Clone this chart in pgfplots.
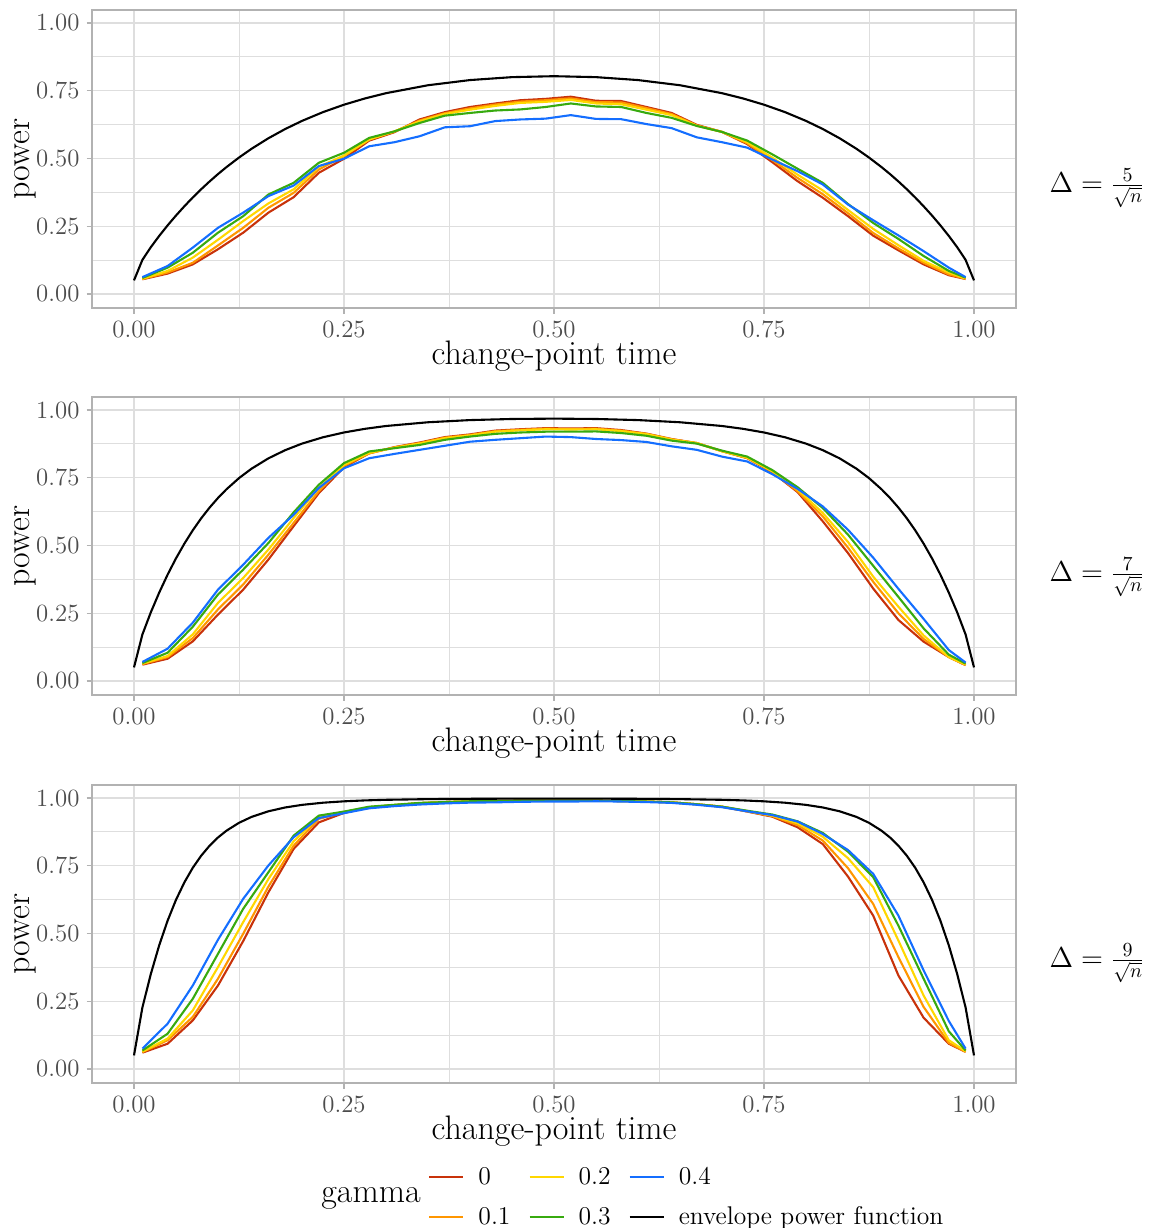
\documentclass[border=0pt]{standalone}
\usepackage{pgfplots}
\usepackage{pgfplotstable}
\pgfplotsset{compat=1.18}

\definecolor{g0}{RGB}{200,50,10}
\definecolor{g1}{RGB}{255,150,0}
\definecolor{g2}{RGB}{255,215,0}
\definecolor{g3}{RGB}{55,170,15}
\definecolor{g4}{RGB}{20,110,255}
\definecolor{grey30}{gray}{0.3}
\definecolor{grey70}{gray}{0.7}
\definecolor{grey87}{gray}{0.87}

% simulated power, delta = 5/sqrt(n)
\pgfplotstableread{
x g0 g1 g2 g3 g4
0.01 .054 .055 .056 .059 .062
0.04 .075 .079 .085 .097 .103
0.07 .109 .115 .134 .152 .171
0.10 .165 .179 .200 .226 .244
0.13 .226 .244 .269 .287 .300
0.16 .300 .318 .334 .367 .361
0.19 .357 .373 .386 .410 .400
0.22 .447 .459 .469 .484 .472
0.25 .499 .509 .511 .521 .499
0.28 .566 .570 .570 .576 .545
0.31 .597 .599 .600 .600 .560
0.34 .644 .640 .637 .631 .582
0.37 .671 .667 .664 .658 .615
0.40 .690 .685 .680 .668 .619
0.43 .703 .699 .694 .677 .638
0.46 .715 .710 .705 .681 .644
0.49 .720 .715 .709 .690 .647
0.52 .728 .722 .716 .703 .660
0.55 .713 .708 .703 .692 .646
0.58 .712 .707 .700 .690 .645
0.61 .690 .686 .680 .668 .627
0.64 .668 .664 .660 .650 .612
0.67 .624 .622 .621 .620 .578
0.70 .598 .598 .598 .598 .560
0.73 .553 .556 .560 .566 .540
0.76 .486 .494 .503 .515 .496
0.79 .416 .428 .440 .462 .453
0.82 .355 .368 .382 .410 .404
0.85 .287 .298 .310 .332 .330
0.88 .215 .225 .240 .262 .272
0.91 .161 .168 .180 .203 .216
0.94 .109 .115 .122 .140 .158
0.97 .069 .072 .079 .085 .097
0.99 .055 .056 .057 .060 .062
}\pfive

% delta = 7/sqrt(n)
\pgfplotstableread{
x g0 g1 g2 g3 g4
0.01 .060 .062 .064 .066 .070
0.04 .082 .088 .092 .104 .119
0.07 .146 .158 .172 .200 .215
0.10 .245 .264 .288 .319 .337
0.13 .337 .356 .380 .411 .429
0.16 .448 .466 .485 .509 .528
0.19 .571 .583 .601 .622 .613
0.22 .693 .700 .712 .724 .712
0.25 .789 .794 .798 .804 .785
0.28 .840 .840 .842 .847 .822
0.31 .863 .862 .861 .859 .838
0.34 .880 .878 .876 .871 .853
0.37 .900 .898 .896 .890 .868
0.40 .910 .908 .906 .902 .883
0.43 .924 .922 .920 .912 .890
0.46 .929 .927 .925 .917 .896
0.49 .933 .931 .929 .920 .902
0.52 .932 .930 .928 .920 .900
0.55 .933 .931 .929 .921 .893
0.58 .926 .924 .922 .915 .889
0.61 .913 .912 .911 .905 .882
0.64 .893 .892 .891 .887 .866
0.67 .878 .878 .878 .876 .853
0.70 .848 .848 .848 .850 .828
0.73 .822 .823 .824 .828 .810
0.76 .770 .772 .774 .778 .763
0.79 .697 .700 .707 .715 .709
0.82 .589 .607 .620 .638 .644
0.85 .472 .492 .513 .540 .558
0.88 .341 .366 .385 .425 .455
0.91 .225 .250 .274 .310 .340
0.94 .145 .155 .168 .194 .229
0.97 .088 .088 .088 .097 .114
0.99 .058 .059 .060 .064 .068
}\pseven

% delta = 9/sqrt(n)
\pgfplotstableread{
x g0 g1 g2 g3 g4
0.01 .060 .062 .064 .068 .075
0.04 .093 .106 .112 .130 .167
0.07 .179 .192 .216 .259 .308
0.10 .308 .333 .376 .425 .477
0.13 .472 .499 .542 .591 .628
0.16 .652 .673 .701 .726 .751
0.19 .812 .824 .840 .861 .855
0.22 .910 .923 .929 .935 .926
0.25 .945 .947 .948 .950 .944
0.28 .965 .966 .966 .968 .962
0.31 .974 .974 .974 .975 .970
0.34 .981 .981 .981 .982 .976
0.37 .985 .985 .985 .985 .980
0.40 .988 .988 .988 .988 .983
0.43 .989 .989 .989 .989 .984
0.46 .990 .990 .990 .990 .986
0.49 .990 .990 .990 .990 .987
0.52 .990 .990 .990 .990 .987
0.55 .990 .990 .990 .990 .988
0.58 .989 .989 .989 .989 .987
0.61 .987 .987 .987 .987 .985
0.64 .984 .984 .984 .984 .982
0.67 .977 .977 .977 .977 .975
0.70 .968 .968 .968 .968 .966
0.73 .950 .951 .952 .953 .951
0.76 .931 .933 .935 .939 .937
0.79 .892 .900 .907 .914 .913
0.82 .830 .843 .857 .871 .867
0.85 .710 .741 .778 .802 .808
0.88 .566 .609 .671 .708 .720
0.91 .345 .413 .474 .529 .566
0.94 .189 .229 .271 .333 .364
0.97 .093 .096 .106 .139 .177
0.99 .063 .063 .065 .068 .075
}\pnine

% envelope power function for the three deltas
\pgfplotstableread{
x d5 d7 d9
0     .0500 .0500 .0500
0.01  .1256 .1714 .2268
0.02  .1723 .2530 .3501
0.03  .2142 .3260 .4563
0.04  .2530 .3923 .5472
0.05  .2894 .4525 .6242
0.06  .3236 .5069 .6888
0.07  .3561 .5561 .7426
0.08  .3865 .6003 .7871
0.09  .4152 .6399 .8240
0.10  .4424 .6754 .8543
0.11  .4679 .7072 .8792
0.125 .5034 .7486 .9085
0.14  .5359 .7835 .9303
0.16  .5746 .8216 .9510
0.18  .6087 .8518 .9651
0.20  .6387 .8760 .9747
0.225 .6711 .8994 .9827
0.25  .6985 .9171 .9878
0.275 .7216 .9306 .9912
0.30  .7410 .9410 .9934
0.35  .7703 .9548 .9959
0.40  .7894 .9628 .9971
0.45  .8002 .9669 .9977
0.50  .8037 .9682 .9978
0.55  .8002 .9669 .9977
0.60  .7894 .9628 .9971
0.65  .7703 .9548 .9959
0.70  .7410 .9410 .9934
0.725 .7216 .9306 .9912
0.75  .6985 .9171 .9878
0.775 .6711 .8994 .9827
0.80  .6387 .8760 .9747
0.82  .6087 .8518 .9651
0.84  .5746 .8216 .9510
0.86  .5359 .7835 .9303
0.875 .5034 .7486 .9085
0.89  .4679 .7072 .8792
0.90  .4424 .6754 .8543
0.91  .4152 .6399 .8240
0.92  .3865 .6003 .7871
0.93  .3561 .5561 .7426
0.94  .3236 .5069 .6888
0.95  .2894 .4525 .6242
0.96  .2530 .3923 .5472
0.97  .2142 .3260 .4563
0.98  .1723 .2530 .3501
0.99  .1256 .1714 .2268
1     .0500 .0500 .0500
}\envel

\pgfplotsset{
  panel/.style={
    scale only axis, width=462pt, height=149pt,
    xmin=-0.05, xmax=1.05, ymin=-0.052, ymax=1.048,
    xtick={0,0.25,0.5,0.75,1}, xticklabels={0.00,0.25,0.50,0.75,1.00},
    ytick={0,0.25,0.5,0.75,1}, yticklabels={0.00,0.25,0.50,0.75,1.00},
    minor xtick={0.125,0.375,0.625,0.875},
    minor ytick={0.125,0.375,0.625,0.875},
    grid=both,
    major grid style={grey87, line width=0.6pt},
    minor grid style={grey87, line width=0.45pt},
    axis line style={grey70, line width=0.7pt},
    tick align=outside, major tick length=2.75pt, minor tick length=0pt,
    xtick pos=bottom, ytick pos=left,
    every tick/.style={grey70, line width=0.6pt},
    tick label style={font=\fontsize{12.4}{14}\selectfont, text=grey30},
    xlabel={change-point time}, ylabel={power},
    label style={font=\fontsize{17}{20}\selectfont},
    xlabel style={at={(axis description cs:0.5,-0.16)}, anchor=center},
    ylabel style={at={(axis description cs:-0.0725,0.5)}, anchor=center, rotate=0},
    every axis plot/.append style={line width=1.05pt, mark=none},
  },
}

\newcommand{\series}[1]{%
  \addplot[g0, forget plot] table[x=x, y=g0] {#1};
  \addplot[g1, forget plot] table[x=x, y=g1] {#1};
  \addplot[g2, forget plot] table[x=x, y=g2] {#1};
  \addplot[g3, forget plot] table[x=x, y=g3] {#1};
  \addplot[g4, forget plot] table[x=x, y=g4] {#1};
}

\begin{document}
\begin{tikzpicture}

\begin{axis}[panel, at={(46pt,-5pt)}, anchor=north west]
  \series{\pfive}
  \addplot[black, forget plot] table[x=x, y=d5] {\envel};
\end{axis}

\begin{axis}[panel, at={(46pt,-198.5pt)}, anchor=north west]
  \series{\pseven}
  \addplot[black, forget plot] table[x=x, y=d7] {\envel};
\end{axis}

\begin{axis}[panel, at={(46pt,-392.5pt)}, anchor=north west,
  legend columns=3,
  legend cell align=left,
  legend image code/.code={\draw[#1] (0pt,0pt) -- (17pt,0pt);},
  legend style={at={(axis description cs:0.3636,-0.384)}, anchor=west,
    draw=none, fill=none, inner sep=0pt,
    font=\fontsize{12.8}{14}\selectfont,
    /tikz/row sep=5.5pt,
    /tikz/every odd column/.append style={column sep=5pt},
    /tikz/every even column/.append style={column sep=7pt}},
  ]
  \series{\pnine}
  \addplot[black, forget plot] table[x=x, y=d9] {\envel};
  \addlegendimage{g0, line width=1.05pt}
  \addlegendentry{0}
  \addlegendimage{g2, line width=1.05pt}
  \addlegendentry{0.2}
  \addlegendimage{g4, line width=1.05pt}
  \addlegendentry{0.4}
  \addlegendimage{g1, line width=1.05pt}
  \addlegendentry{0.1}
  \addlegendimage{g3, line width=1.05pt}
  \addlegendentry{0.3}
  \addlegendimage{black, line width=1.05pt}
  \addlegendentry{envelope power function}
\end{axis}

\node[font=\fontsize{14.5}{17}\selectfont] at (548.5pt,-94pt) {$\Delta = \frac{5}{\sqrt{n}}$};
\node[font=\fontsize{14.5}{17}\selectfont] at (548.5pt,-288.5pt) {$\Delta = \frac{7}{\sqrt{n}}$};
\node[font=\fontsize{14.5}{17}\selectfont] at (548.5pt,-481.5pt) {$\Delta = \frac{9}{\sqrt{n}}$};
\node[font=\fontsize{17}{20}\selectfont] at (185.5pt,-599pt) {gamma};

\pgfresetboundingbox
\useasboundingbox (0pt,0pt) rectangle (574.5pt,-614pt);
\end{tikzpicture}
\end{document}
